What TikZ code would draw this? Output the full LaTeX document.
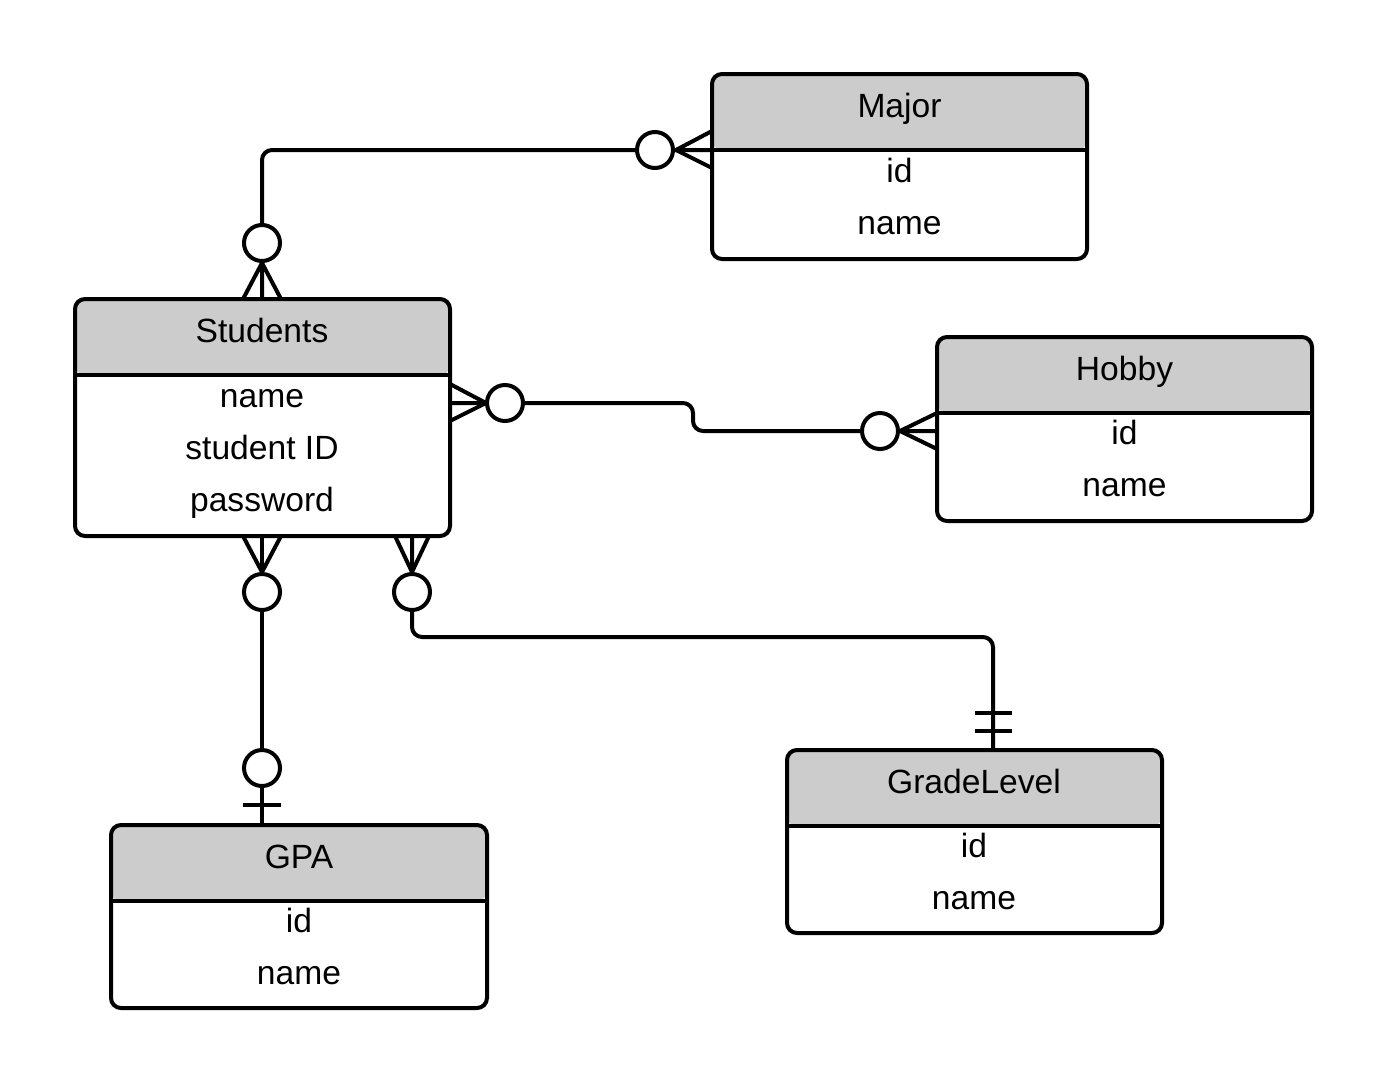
\documentclass[tikz,border=0pt]{standalone}
\usepackage{fontspec}
\setmainfont{Liberation Sans}
\usetikzlibrary{calc}
\tikzset{
  ln/.style={line width=3pt, line join=round},
  ent/.style={draw, line width=3pt, rounded corners=7.5pt, fill=white, anchor=north west, inner sep=0pt, outer sep=0pt,
    path picture={
      \fill[hdrgray] (path picture bounding box.north west) rectangle ([yshift=-57pt]path picture bounding box.north east);
      \draw[line width=3pt] ([yshift=-57pt]path picture bounding box.north west) -- ([yshift=-57pt]path picture bounding box.north east);
    }},
  lbl/.style={font=\fontsize{25.2}{30}\selectfont, anchor=base, inner sep=0pt},
  circ/.style={circle, draw, line width=3pt, fill=white, minimum size=27pt, inner sep=0pt},
}
\definecolor{hdrgray}{HTML}{CCCCCC}
\begin{document}
\begin{tikzpicture}[x=0.75pt,y=-0.75pt]
\useasboundingbox (0,0) rectangle (1388,1086);
\fill[white] (0,0) rectangle (1388,1086);

% entities
\node[ent, minimum width=281.25pt, minimum height=138.75pt] (maj) at (712,74) {};
\node[ent, minimum width=281.25pt, minimum height=177.75pt] (stu) at (75,299) {};
\node[ent, minimum width=281.25pt, minimum height=138pt] (hob) at (937,337) {};
\node[ent, minimum width=282pt, minimum height=137.25pt] (gpa) at (111,825) {};
\node[ent, minimum width=281.25pt, minimum height=137.25pt] (gl) at (787,750) {};

% labels
\node[lbl] (majT) at (899.5,117) {Major};
\node[lbl] (maj1) at (899.5,182) {id};
\node[lbl] (maj2) at (899.5,234) {name};

\node[lbl] (stuT) at (262,342) {Students};
\node[lbl] (stu1) at (262,407) {name};
\node[lbl] (stu2) at (262,459) {student ID};
\node[lbl] (stu3) at (262,511) {password};

\node[lbl] (hobT) at (1124.5,380) {Hobby};
\node[lbl] (hob1) at (1124.5,444) {id};
\node[lbl] (hob2) at (1124.5,496) {name};

\node[lbl] (gpaT) at (299,868) {GPA};
\node[lbl] (gpa1) at (299,932) {id};
\node[lbl] (gpa2) at (299,984) {name};

\node[lbl] (glT) at (974,793) {GradeLevel};
\node[lbl] (gl1) at (974,857) {id};
\node[lbl] (gl2) at (974,909) {name};

% anchor points
\coordinate (sTop) at ($(stu.north west)+(187,0)$);
\coordinate (mL) at ($(maj.north west)+(0,76)$);
\coordinate (sR) at ($(stu.north east)+(0,104)$);
\coordinate (hL) at ($(hob.north west)+(0,94)$);
\coordinate (sB1) at ($(stu.south west)+(187,0)$);
\coordinate (gT) at ($(gpa.north west)+(151,0)$);
\coordinate (sB2) at ($(stu.south east)+(-38,0)$);
\coordinate (glT2) at ($(gl.north west)+(206,0)$);

% connector Students - Major
\draw[ln, rounded corners=7.5pt] (sTop) |- (mL);
\draw[ln] ($(sTop)+(-19,0)$) -- ($(sTop)+(0,-36)$) -- ($(sTop)+(19,0)$);
\node[circ] (c1) at ($(sTop)+(0,-56)$) {};
\draw[ln] ($(mL)+(0,-19)$) -- ($(mL)+(-36,0)$) -- ($(mL)+(0,18)$);
\node[circ] (c2) at ($(mL)+(-57,0)$) {};

% connector Students - Hobby
\draw[ln, rounded corners=7.5pt] (sR) -- ++(243,0) |- (hL);
\draw[ln] ($(sR)+(0,-19)$) -- ($(sR)+(36,0)$) -- ($(sR)+(0,18)$);
\node[circ] (c3) at ($(sR)+(55,0)$) {};
\draw[ln] ($(hL)+(0,-18)$) -- ($(hL)+(-37,0)$) -- ($(hL)+(0,18)$);
\node[circ] (c4) at ($(hL)+(-57,0)$) {};

% connector Students - GPA
\draw[ln] (sB1) -- (gT);
\draw[ln] ($(sB1)+(-19,0)$) -- ($(sB1)+(0,36)$) -- ($(sB1)+(19,0)$);
\node[circ] (c5) at ($(sB1)+(0,56)$) {};
\node[circ] (c6) at ($(gT)+(0,-57)$) {};
\draw[ln] ($(gT)+(-19,-20)$) -- ($(gT)+(19,-20)$);

% connector Students - GradeLevel
\draw[ln, rounded corners=7.5pt] (sB2) -- ++(0,101) -| (glT2);
\draw[ln] ($(sB2)+(-17,0)$) -- ($(sB2)+(0,36)$) -- ($(sB2)+(17,0)$);
\node[circ] (c7) at ($(sB2)+(0,56)$) {};
\draw[ln] ($(glT2)+(-18,-37)$) -- ($(glT2)+(19,-37)$);
\draw[ln] ($(glT2)+(-18,-19)$) -- ($(glT2)+(19,-19)$);
\end{tikzpicture}
\end{document}
